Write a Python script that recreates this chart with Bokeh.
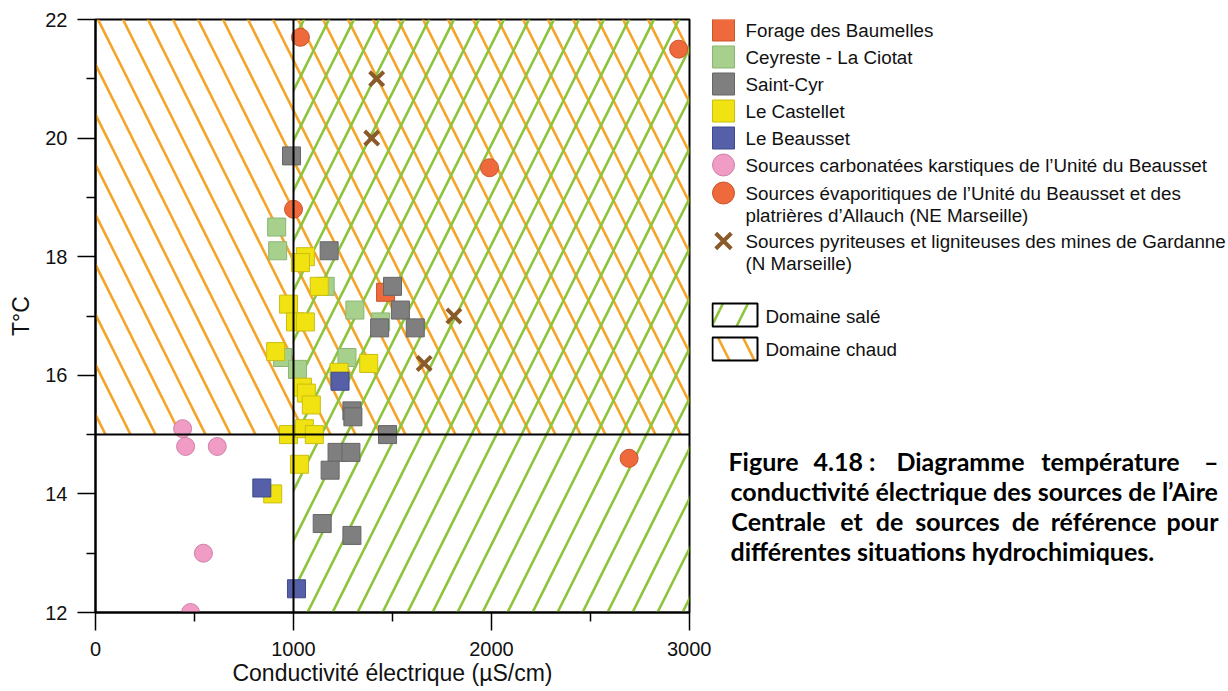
from bokeh.plotting import figure
from bokeh.layouts import row
from bokeh.models import Range1d, FixedTicker, Span
from bokeh.core.properties import value
from bokeh.embed import file_html
from bokeh.resources import INLINE

# ---------------- data ----------------
baumelles_x = [1465]
baumelles_y = [17.4]

ceyreste_x = [915, 920, 1160, 1310, 1440, 945, 1020, 1270]
ceyreste_y = [18.5, 18.1, 17.5, 17.1, 16.9, 16.3, 16.1, 16.3]

castellet_x = [1060, 1035, 1130, 975, 1010, 1060, 910, 1380, 1230, 1045, 1065, 1090,
               975, 1055, 1105, 1030, 895]
castellet_y = [18.0, 17.9, 17.5, 17.2, 16.9, 16.9, 16.4, 16.2, 16.05, 15.8, 15.7, 15.5,
               15.0, 15.1, 15.0, 14.5, 14.0]

saintcyr_x = [990, 1180, 1500, 1540, 1435, 1615, 1295, 1300, 1475, 1220, 1290, 1185, 1145, 1295]
saintcyr_y = [19.7, 18.1, 17.5, 17.1, 16.8, 16.8, 15.4, 15.3, 15.0, 14.7, 14.7, 14.4, 13.5, 13.3]

beausset_x = [840, 1015, 1235]
beausset_y = [14.1, 12.4, 15.9]

karst_x = [440, 455, 615, 545, 480]
karst_y = [15.1, 14.8, 14.8, 13.0, 12.0]

evap_x = [1035, 1000, 1990, 2945, 2695]
evap_y = [21.7, 18.8, 19.5, 21.5, 14.6]

gardanne_x = [1420, 1395, 1810, 1660]
gardanne_y = [21.0, 20.0, 17.0, 16.2]

x_ticks = [0, 1000, 2000, 3000]
x_minor = [500, 1500, 2500]
y_ticks = [12, 14, 16, 18, 20, 22]
y_minor = [13, 15, 17, 19, 21]

cond_limit = 1000   # Domaine salé: conductivity above
temp_limit = 15     # Domaine chaud: temperature above

legend_labels = [
    ["Forage des Baumelles"],
    ["Ceyreste - La Ciotat"],
    ["Saint-Cyr"],
    ["Le Castellet"],
    ["Le Beausset"],
    ["Sources carbonatées karstiques de l’Unité du Beausset"],
    ["Sources évaporitiques de l’Unité du Beausset et des", "platrières d’Allauch (NE Marseille)"],
    ["Sources pyriteuses et ligniteuses des mines de Gardanne", "(N Marseille)"],
]
domain_labels = ["Domaine salé", "Domaine chaud"]

caption_line1 = ["Figure", "4.18 :", "Diagramme", "température"]
caption_line1_end = "–"
caption_line2 = "conductivité électrique des sources de l’Aire"
caption_line3 = ["Centrale", "et", "de", "sources", "de", "référence"]
caption_line3_end = "pour"
caption_line4 = "différentes situations hydrochimiques."

# ---------------- styles ----------------
FONT = "Liberation Sans"
C_BAUM = ("#EE6A3C", "#C9552C")
C_CEY = ("#A8D08D", "#8BB574")
C_CYR = ("#7F7F7F", "#666666")
C_CAS = ("#F1E312", "#C9BD10")
C_BEA = ("#5560A8", "#3F4A8C")
C_KAR = ("#F19CC5", "#CF80A8")
C_EVA = ("#EE6A3C", "#C9552C")
C_GAR = "#8B5A2B"
ORANGE_H = "#F5A52A"
GREEN_H = "#8DC43C"
HATCH_SCALE = 50
HATCH_W = 2.6

# page geometry (pixels)
H = 690
F_LEFT, F_RIGHT, F_TOP, F_BOTTOM = 95, 689, 19, 612
W1 = 711
W2 = 1226 - W1

p = figure(width=W1, height=H, output_backend="svg", toolbar_location=None,
           x_range=Range1d(0, 3000), y_range=Range1d(12, 22),
           min_border_left=F_LEFT, min_border_right=W1 - F_RIGHT,
           min_border_top=F_TOP, min_border_bottom=H - F_BOTTOM)
p.xgrid.visible = False
p.ygrid.visible = False
p.outline_line_color = "black"
p.outline_line_width = 2
p.background_fill_color = "white"
p.border_fill_color = "white"

# hatched domains
p.quad(left=[0], right=[3000], bottom=[temp_limit], top=[22], fill_color=None, line_color=None,
       hatch_pattern="\\", hatch_color=ORANGE_H, hatch_weight=HATCH_W, hatch_scale=HATCH_SCALE)
p.quad(left=[cond_limit], right=[3000], bottom=[12], top=[22], fill_color=None, line_color=None,
       hatch_pattern="/", hatch_color=GREEN_H, hatch_weight=HATCH_W, hatch_scale=HATCH_SCALE)

p.add_layout(Span(location=cond_limit, dimension="height", line_color="black", line_width=2))
p.add_layout(Span(location=temp_limit, dimension="width", line_color="black", line_width=2))

SQ = 18
p.scatter(baumelles_x, baumelles_y, marker="square", size=SQ, fill_color=C_BAUM[0], line_color=C_BAUM[1])
p.scatter(ceyreste_x, ceyreste_y, marker="square", size=SQ, fill_color=C_CEY[0], line_color=C_CEY[1])
p.scatter(castellet_x, castellet_y, marker="square", size=SQ, fill_color=C_CAS[0], line_color=C_CAS[1])
p.scatter(saintcyr_x, saintcyr_y, marker="square", size=SQ, fill_color=C_CYR[0], line_color=C_CYR[1])
p.scatter(beausset_x, beausset_y, marker="square", size=SQ, fill_color=C_BEA[0], line_color=C_BEA[1])
p.scatter(karst_x, karst_y, marker="circle", size=SQ, fill_color=C_KAR[0], line_color=C_KAR[1])
p.scatter(evap_x, evap_y, marker="circle", size=SQ, fill_color=C_EVA[0], line_color=C_EVA[1])
p.scatter(gardanne_x, gardanne_y, marker="x", size=20, line_color=C_GAR, line_width=4)

for ax, ticks, minor in ((p.xaxis, x_ticks, x_minor), (p.yaxis, y_ticks, y_minor)):
    ax.ticker = FixedTicker(ticks=ticks, minor_ticks=minor)
    ax.axis_line_width = 2
    ax.axis_line_color = "black"
    ax.major_tick_out = 18
    ax.major_tick_in = 0
    ax.minor_tick_out = 9
    ax.minor_tick_in = 0
    ax.major_tick_line_width = 1.5
    ax.minor_tick_line_width = 1.5
    ax.major_tick_line_color = "black"
    ax.minor_tick_line_color = "black"
    ax.major_label_text_font = FONT
    ax.major_label_text_font_size = "20px"
    ax.major_label_text_color = "#111111"
    ax.axis_label_text_font = FONT
    ax.axis_label_text_font_size = "23px"
    ax.axis_label_text_font_style = "normal"
    ax.axis_label_text_color = "#111111"

p.xaxis.axis_label = "Conductivité électrique (µS/cm)"
p.yaxis.axis_label = "T°C"
p.xaxis.major_label_standoff = 11
p.xaxis.axis_label_standoff = 1
p.yaxis.major_label_standoff = 10
p.yaxis.axis_label_standoff = 8

# ---------------- legend / caption panel (data units = page pixels) ----------------
p2 = figure(width=W2, height=H, output_backend="svg", toolbar_location=None,
            x_range=Range1d(W1, W1 + W2), y_range=Range1d(F_BOTTOM, F_TOP),
            x_axis_type=None, y_axis_type=None,
            min_border_left=0, min_border_right=0,
            min_border_top=F_TOP, min_border_bottom=H - F_BOTTOM)
p2.xgrid.visible = False
p2.ygrid.visible = False
p2.outline_line_color = None

SHIFT = W1 - 706 + 1
leg_mark_x = 717 + SHIFT
leg_text_x = 739 + SHIFT
row_y = [29.5, 56.5, 83.5, 110.5, 137.5, 164.5, 192.5, 240.5]
line2_dy = 22.7
mk = [("square", C_BAUM), ("square", C_CEY), ("square", C_CYR), ("square", C_CAS),
      ("square", C_BEA), ("circle", C_KAR), ("circle", C_EVA)]
for (m, c), yy in zip(mk, row_y):
    p2.scatter([leg_mark_x], [yy], marker=m, size=22, fill_color=c[0], line_color=c[1])
p2.scatter([leg_mark_x], [row_y[7]], marker="x", size=22, line_color=C_GAR, line_width=4)

tx, ty, tt = [], [], []
for lines, yy in zip(legend_labels, row_y):
    for k, s in enumerate(lines):
        tx.append(leg_text_x)
        ty.append(yy + k * line2_dy)
        tt.append(s)
p2.text(x=tx, y=ty, text=tt, text_font=value(FONT), text_font_size="18.8px",
        text_baseline="middle", text_align="left", text_color="#111111")

# domain legend boxes
box_l, box_r = 706 + SHIFT, 751 + SHIFT
box_top = [303, 337]
box_h = 23
p2.quad(left=[box_l], right=[box_r], top=[box_top[0]], bottom=[box_top[0] + box_h],
        fill_color="white", line_color="black", line_width=2,
        hatch_pattern="/", hatch_color=GREEN_H, hatch_weight=HATCH_W, hatch_scale=HATCH_SCALE)
p2.quad(left=[box_l], right=[box_r], top=[box_top[1]], bottom=[box_top[1] + box_h],
        fill_color="white", line_color="black", line_width=2,
        hatch_pattern="\\", hatch_color=ORANGE_H, hatch_weight=HATCH_W, hatch_scale=HATCH_SCALE)
p2.text(x=[759 + SHIFT, 759 + SHIFT], y=[315.5, 348.5], text=domain_labels,
        text_font=value(FONT), text_font_size="18.8px", text_baseline="middle",
        text_align="left", text_color="#111111")

# caption (justified: words centred on their positions in the reference)
CAP_FONT = "Lato"
CAP_SIZE = "25px"
cap_c1 = [763, 844, 960, 1110]
cap_c3 = [778, 851, 889, 957, 1025, 1103]
cap_left = 730
cap_right = 1218
cap_y = [460, 490, 520, 550]
p2.text(x=cap_c1 + cap_c3, y=[cap_y[0]] * len(cap_c1) + [cap_y[2]] * len(cap_c3),
        text=caption_line1 + caption_line3, text_font=value(CAP_FONT), text_font_style="bold",
        text_font_size=CAP_SIZE, text_baseline="middle", text_align="center", text_color="#000000")
p2.text(x=[cap_left, cap_left], y=[cap_y[1], cap_y[3]], text=[caption_line2, caption_line4],
        text_font=value(CAP_FONT), text_font_style="bold",
        text_font_size=CAP_SIZE, text_baseline="middle", text_align="left", text_color="#000000")
p2.text(x=[cap_right, cap_right], y=[cap_y[0], cap_y[2]], text=[caption_line1_end, caption_line3_end],
        text_font=value(CAP_FONT), text_font_style="bold",
        text_font_size=CAP_SIZE, text_baseline="middle", text_align="right", text_color="#000000")

layout = row(p, p2)
open("out.html", "w").write(file_html(layout, INLINE))
